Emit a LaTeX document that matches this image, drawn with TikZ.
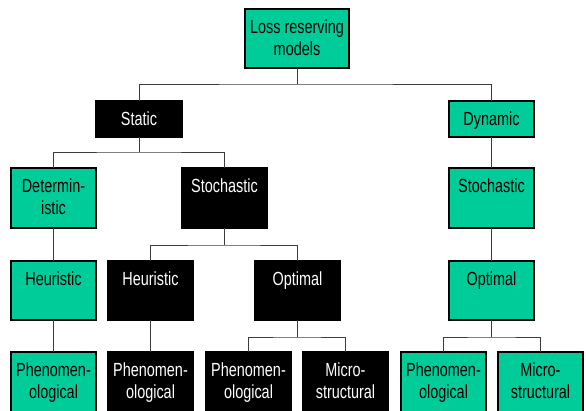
\documentclass[tikz,border=0pt]{standalone}
\usepackage{fontspec}
\setmainfont[FakeStretch=0.76]{Liberation Sans}
\definecolor{boxgreen}{RGB}{0,204,153}
\definecolor{linegray}{RGB}{60,60,60}
% raises the first text line to a fixed distance below the box top
\newcommand\boxlead{\rule{0pt}{24pt}}
\tikzset{
  box/.style={draw=black, line width=1.2pt, inner sep=0pt, outer sep=0pt,
              minimum width=85pt, minimum height=59pt},
  gbox/.style={box, fill=boxgreen},
  bbox/.style={box, fill=black},
  boxtext/.style={anchor=north, inner sep=0pt, align=center,
                  font=\fontsize{19}{22.5}\selectfont},
  gtext/.style={boxtext, text=black},
  btext/.style={boxtext, text=white},
  link/.style={draw=linegray, line width=1pt},
}
\begin{document}
\begin{tikzpicture}[x=1pt, y=-1pt]
  \fill[white] (0,0) rectangle (586,410);
  \useasboundingbox (0,0) rectangle (586,410);
  \clip (0,0) rectangle (586,410);

  % boxes
  \node[gbox, minimum width=104pt] (root) at (297,38.5) {};
  \node[bbox, minimum width=86pt, minimum height=36pt] (static) at (139,119) {};
  \node[gbox, minimum height=36pt] (dynamic) at (491.5,119) {};
  \node[gbox, minimum height=60pt] (det) at (53.5,198) {};
  \node[bbox, minimum height=60pt] (stochS) at (224.5,198) {};
  \node[gbox, minimum height=60pt] (stochD) at (491.5,198) {};
  \node[gbox] (heurG) at (53.5,290.5) {};
  \node[bbox] (heurB) at (150.5,290.5) {};
  \node[bbox] (optB) at (297.5,290.5) {};
  \node[gbox] (optG) at (491.5,290.5) {};
  \node[gbox, minimum height=60pt] (phG1) at (53.5,382) {};
  \node[bbox, minimum height=60pt] (phB1) at (150.5,382) {};
  \node[bbox, minimum height=60pt] (phB2) at (248.5,382) {};
  \node[bbox, minimum height=60pt] (miB) at (345.5,382) {};
  \node[gbox, minimum height=60pt] (phG2) at (443.5,382) {};
  \node[gbox, minimum height=60pt] (miG) at (540.5,382) {};

  % connectors
  \coordinate (bus0) at (297,84);
  \coordinate (bus1) at (139,152);
  \coordinate (bus2) at (224.5,245);
  \coordinate (bus3) at (297.5,337);
  \coordinate (bus4) at (491.5,337);
  \draw[link] (root.south) -- (bus0);
  \draw[link] (static.north) |- (bus0) -| (dynamic.north);
  \draw[link] (static.south) -- (bus1);
  \draw[link] (det.north) |- (bus1) -| (stochS.north);
  \draw[link] (stochS.south) -- (bus2);
  \draw[link] (heurB.north) |- (bus2) -| (optB.north);
  \draw[link] (optB.south) -- (bus3);
  \draw[link] (phB2.north) |- (bus3) -| (miB.north);
  \draw[link] (optG.south) -- (bus4);
  \draw[link] (phG2.north) |- (bus4) -| (miG.north);
  \draw[link] (det.south) -- (heurG.north);
  \draw[link] (heurG.south) -- (phG1.north);
  \draw[link] (heurB.south) -- (phB1.north);
  \draw[link] (dynamic.south) -- (stochD.north);
  \draw[link] (stochD.south) -- (optG.north);

  % texts
  \node[gtext] (root-t) at (root.north) {\boxlead Loss reserving\\models};
  \node[btext] (static-t) at (static.north) {\boxlead Static};
  \node[gtext] (dynamic-t) at (dynamic.north) {\boxlead Dynamic};
  \node[gtext] (det-t) at (det.north) {\boxlead Determin-\\istic};
  \node[btext] (stochS-t) at (stochS.north) {\boxlead Stochastic};
  \node[gtext] (stochD-t) at (stochD.north) {\boxlead Stochastic};
  \node[gtext] (heurG-t) at (heurG.north) {\boxlead Heuristic};
  \node[btext] (heurB-t) at (heurB.north) {\boxlead Heuristic};
  \node[btext] (optB-t) at (optB.north) {\boxlead Optimal};
  \node[gtext] (optG-t) at (optG.north) {\boxlead Optimal};
  \node[gtext] (phG1-t) at (phG1.north) {\boxlead Phenomen-\\ological};
  \node[btext] (phB1-t) at (phB1.north) {\boxlead Phenomen-\\ological};
  \node[btext] (phB2-t) at (phB2.north) {\boxlead Phenomen-\\ological};
  \node[btext] (miB-t) at (miB.north) {\boxlead Micro-\\structural};
  \node[gtext] (phG2-t) at (phG2.north) {\boxlead Phenomen-\\ological};
  \node[gtext] (miG-t) at (miG.north) {\boxlead Micro-\\structural};
\end{tikzpicture}
\end{document}
